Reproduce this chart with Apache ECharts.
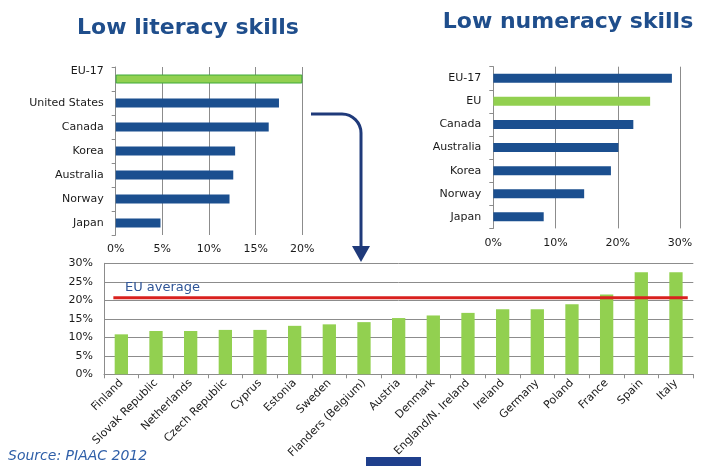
<!DOCTYPE html>
<html>
<head>
<meta charset="utf-8">
<script src="https://cdn.jsdelivr.net/npm/echarts@6/dist/echarts.min.js"></script>
<style>html,body{margin:0;padding:0;background:#fff}#c{width:718px;height:466px}</style>
</head>
<body>
<div id="c"></div>
<script>
// Low literacy skills
var litCategories = ['EU-17', 'United States', 'Canada', 'Korea', 'Australia', 'Norway', 'Japan'];
var litValues = [20.0, 17.5, 16.4, 12.8, 12.6, 12.2, 4.8];
var litTicks = [0, 5, 10, 15, 20];

// Low numeracy skills
var numCategories = ['EU-17', 'EU', 'Canada', 'Australia', 'Korea', 'Norway', 'Japan'];
var numValues = [28.7, 25.2, 22.5, 20.1, 18.9, 14.6, 8.1];
var numTicks = [0, 10, 20, 30];

// EU countries (low literacy)
var euCategories = ['Finland', 'Slovak Republic', 'Netherlands', 'Czech Republic', 'Cyprus', 'Estonia', 'Sweden',
  'Flanders (Belgium)', 'Austria', 'Denmark', 'England/N. Ireland', 'Ireland', 'Germany', 'Poland', 'France', 'Spain', 'Italy'];
var euValues = [10.8, 11.7, 11.7, 12.0, 12.0, 13.1, 13.5, 14.1, 15.2, 15.9, 16.6, 17.6, 17.6, 18.9, 21.6, 27.6, 27.6];
var euTicks = [0, 5, 10, 15, 20, 25, 30];
var euAverage = 20.7;

var BLUE = '#1b4f8f', GREEN = '#92d050', GREEN_BORDER = '#3faa3a', GRID = '#8c8c8c', TXT = '#1a1a1a';
var FONT = 'DejaVu Sans';
var ARROW = '#1f3a7a';

var chart = echarts.init(document.getElementById('c'), null, {renderer: 'canvas'});

function pct(v) { return v + '%'; }

var option = {
  animation: false,
  textStyle: {fontFamily: FONT},
  title: [
    {text: 'Low literacy skills', left: 183, top: 12, textAlign: 'center',
      textStyle: {fontFamily: FONT, fontWeight: 'bold', fontSize: 22, color: '#1f4e8c'}},
    {text: 'Low numeracy skills', left: 563, top: 6, textAlign: 'center',
      textStyle: {fontFamily: FONT, fontWeight: 'bold', fontSize: 22, color: '#1f4e8c'}}
  ],
  grid: [
    {left: 115.7, top: 67, width: 186.6, height: 168},
    {left: 493.3, top: 66.7, width: 186.7, height: 161.7},
    {left: 104, top: 263.3, width: 589.3, height: 111}
  ],
  xAxis: [
    {gridIndex: 0, type: 'value', min: litTicks[0], max: litTicks[litTicks.length - 1], interval: 5,
      axisLine: {show: false}, axisTick: {show: false},
      splitLine: {show: true, lineStyle: {color: GRID, width: 1}},
      axisLabel: {formatter: pct, color: TXT, fontSize: 11, fontFamily: FONT, margin: 9}},
    {gridIndex: 1, type: 'value', min: numTicks[0], max: numTicks[numTicks.length - 1], interval: 10,
      axisLine: {show: false}, axisTick: {show: false},
      splitLine: {show: true, lineStyle: {color: GRID, width: 1}},
      axisLabel: {formatter: pct, color: TXT, fontSize: 11, fontFamily: FONT, margin: 9}},
    {gridIndex: 2, type: 'category', data: euCategories,
      axisLine: {show: true, onZero: false, lineStyle: {color: GRID}},
      axisTick: {show: true, length: 4, lineStyle: {color: GRID}},
      axisLabel: {rotate: 45, color: TXT, fontSize: 11, fontFamily: FONT, margin: 7, interval: 0}},
    {gridIndex: 2, type: 'value', min: -0.5, max: euCategories.length - 0.5, show: false}
  ],
  yAxis: [
    {gridIndex: 0, type: 'category', data: litCategories, inverse: true,
      axisLine: {show: true, lineStyle: {color: GRID}},
      axisTick: {show: true, length: 4, lineStyle: {color: GRID}},
      axisLabel: {color: TXT, fontSize: 11, fontFamily: FONT, margin: 12,
        formatter: function (v) { return v === 'EU-17' ? '{up|' + v + '}' : v; },
        rich: {up: {fontSize: 11, fontFamily: FONT, color: TXT, padding: [0, 0, 16, 0]}}}},
    {gridIndex: 1, type: 'category', data: numCategories, inverse: true,
      axisLine: {show: true, lineStyle: {color: GRID}},
      axisTick: {show: true, length: 4, lineStyle: {color: GRID}},
      axisLabel: {color: TXT, fontSize: 11, fontFamily: FONT, margin: 12}},
    {gridIndex: 2, type: 'value', min: euTicks[0], max: euTicks[euTicks.length - 1], interval: 5,
      axisLine: {show: true, onZero: false, lineStyle: {color: GRID}},
      axisTick: {show: false},
      splitLine: {show: true, lineStyle: {color: GRID, width: 1}},
      axisLabel: {formatter: pct, color: TXT, fontSize: 11, fontFamily: FONT, margin: 11}}
  ],
  series: [
    {type: 'bar', xAxisIndex: 0, yAxisIndex: 0, barWidth: 9,
      data: litValues.map(function (v, i) {
        return litCategories[i] === 'EU-17'
          ? {value: v, itemStyle: {color: GREEN, borderColor: GREEN_BORDER, borderWidth: 1}}
          : {value: v, itemStyle: {color: BLUE}};
      })},
    {type: 'bar', xAxisIndex: 1, yAxisIndex: 1, barWidth: 9,
      data: numValues.map(function (v, i) {
        return {value: v, itemStyle: {color: numCategories[i] === 'EU' ? GREEN : BLUE}};
      })},
    {type: 'bar', xAxisIndex: 2, yAxisIndex: 2, barWidth: 13.3, itemStyle: {color: GREEN}, z: 2,
      data: euValues},
    {type: 'line', xAxisIndex: 3, yAxisIndex: 2, symbol: 'none', z: 5,
      lineStyle: {color: '#d9211e', width: 3},
      data: [[-0.23, euAverage], [euCategories.length - 1 + 0.34, euAverage]]}
  ],
  graphic: [
    {type: 'text', left: 125, top: 281, z: 10,
      style: {text: 'EU average', font: '13px "DejaVu Sans"', fill: '#2f5597'}},
    {type: 'text', left: 8, top: 449, z: 10,
      style: {text: 'Source: PIAAC 2012', font: 'italic 14px "DejaVu Sans"', fill: '#2f5fa8'}},
    {type: 'line', z: 10, shape: {x1: 311, y1: 114, x2: 342, y2: 114},
      style: {stroke: ARROW, lineWidth: 3}},
    {type: 'arc', z: 10, shape: {cx: 342, cy: 133, r: 19, startAngle: -Math.PI / 2, endAngle: 0, clockwise: true},
      style: {stroke: ARROW, lineWidth: 3, fill: null}},
    {type: 'line', z: 10, shape: {x1: 361, y1: 133, x2: 361, y2: 248},
      style: {stroke: ARROW, lineWidth: 3}},
    {type: 'polygon', z: 10,
      shape: {points: [[352, 246], [370, 246], [361, 262]]},
      style: {fill: ARROW}},
    {type: 'rect', z: 10,
      shape: {x: 366, y: 457, width: 55, height: 9},
      style: {fill: '#1f3f8c'}}
  ]
};
chart.setOption(option);
</script>
</body>
</html>
